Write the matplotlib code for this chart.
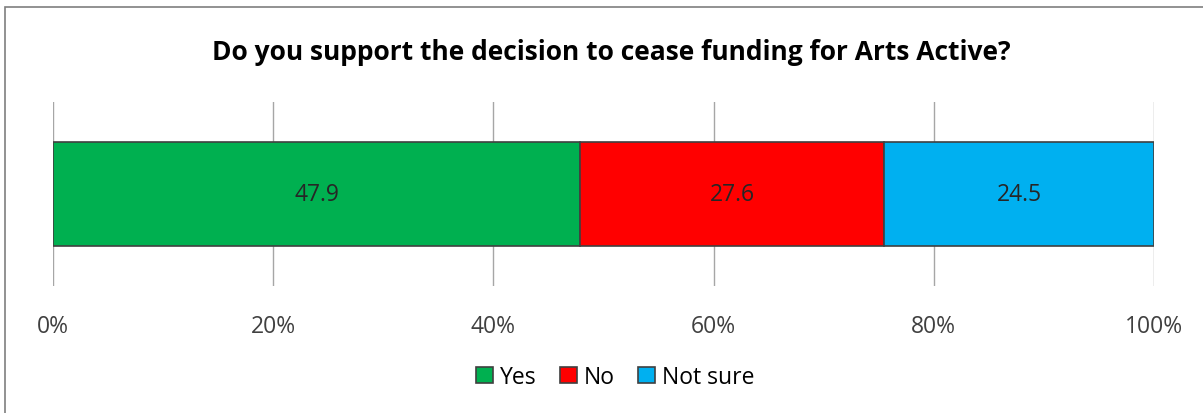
import matplotlib.pyplot as plt
from matplotlib.patches import Rectangle
from matplotlib.ticker import PercentFormatter

# survey answers, percent
labels = ["Yes", "No", "Not sure"]
values = [47.9, 27.6, 24.5]
colors = ["#00B050", "#FF0000", "#00B0F0"]

title = "Do you support the decision to cease funding for Arts Active?"

plt.rcParams['font.family'] = ['Open Sans', 'DejaVu Sans']

W, H = 1203, 414
fig = plt.figure(figsize=(W / 100, H / 100), dpi=100)
ax = fig.add_axes([53 / W, 1 - 287 / H, (1154 - 53) / W, 184 / H])

left = 0
for lab, v, c in zip(labels, values, colors):
    ax.barh(0, v, left=left, height=0.57, color=c, edgecolor="#404040",
            linewidth=1.2, label=lab, zorder=3)
    ax.text(left + v / 2, 0, f"{v:.1f}", ha="center", va="center",
            fontsize=16.5, color="#262626", zorder=4)
    left += v

ax.set_xlim(0, 100)
ax.set_ylim(-0.5, 0.5)
ax.set_xticks(range(0, 101, 20))
ax.xaxis.set_major_formatter(PercentFormatter(decimals=0))
ax.set_yticks([])
ax.grid(axis="x", color="#A6A6A6", linewidth=1, zorder=0)
for s in ax.spines.values():
    s.set_visible(False)
ax.tick_params(axis="x", length=0, pad=20, labelsize=16.5, labelcolor="#404040")

fig.text(0.508, 1 - 52 / H, title, ha="center", va="center",
         fontsize=19, fontweight="bold", color="black")

fig.legend(loc="center", bbox_to_anchor=(615 / W, 1 - 378 / H), ncol=3, frameon=False,
           fontsize=16.5, handlelength=0.75, handleheight=0.75, handletextpad=0.3,
           columnspacing=1.0)

# chart border (only top/left visible)
fig.patches.append(Rectangle((5 / W, -0.1), 1.2, 1 - 8 / H + 0.1,
                             transform=fig.transFigure, fill=False,
                             edgecolor="#7F7F7F", linewidth=1.2))

fig.savefig("out.png", dpi=100)
